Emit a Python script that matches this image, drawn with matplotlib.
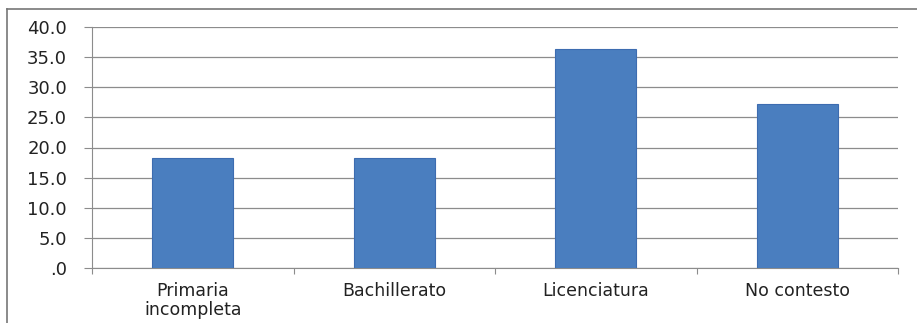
import matplotlib.pyplot as plt
from matplotlib.lines import Line2D
from matplotlib.ticker import FuncFormatter

categorias = ['Primaria\nincompleta', 'Bachillerato', 'Licenciatura', 'No contesto']
porcentajes = [18.2, 18.2, 36.4, 27.3]
ticks_y = [0, 5, 10, 15, 20, 25, 30, 35, 40]

plt.rcParams['font.family'] = ['DejaVu Sans']

fig = plt.figure(figsize=(9.17, 3.23), dpi=100)
ax = fig.add_axes([92 / 917, 1 - 268 / 323, (898 - 92) / 917, (268 - 27) / 323])

x = list(range(len(categorias)))
ax.bar(x, porcentajes, width=0.4, color='#4a7ebf', edgecolor='#3d6cb0', linewidth=0.8, zorder=3)

ax.set_xlim(-0.5, len(categorias) - 0.5)
ax.set_ylim(0, 40)
ax.set_yticks(ticks_y)
ax.yaxis.set_major_formatter(FuncFormatter(lambda v, p: '.0' if v == 0 else '%.1f' % v))
ax.grid(axis='y', color='#8c8c8c', linewidth=0.9, zorder=0)

# etiquetas de categorias en el centro, ticks en los limites
ax.set_xticks([i + 0.5 for i in range(-1, len(categorias))])
ax.set_xticklabels([])
ax.set_xticks(x, minor=True)
ax.set_xticklabels(categorias, minor=True, fontsize=12.5, color='#222222', linespacing=1.1)
ax.tick_params(axis='x', which='minor', length=0, pad=10)
ax.tick_params(axis='x', which='major', length=4, color='#8c8c8c', direction='out')
ax.tick_params(axis='y', length=6, color='#8c8c8c', labelsize=13, labelcolor='#222222', pad=12)

for s in ['top', 'right']:
    ax.spines[s].set_visible(False)
ax.spines['left'].set_color('#8c8c8c')
ax.spines['bottom'].set_color('#8c8c8c')

# borde del grafico
fig.add_artist(Line2D([7 / 917, 1], [1 - 9 / 323, 1 - 9 / 323], color='#777777', linewidth=1.2, transform=fig.transFigure))
fig.add_artist(Line2D([7 / 917, 7 / 917], [0, 1 - 9 / 323], color='#777777', linewidth=1.2, transform=fig.transFigure))

fig.savefig('out.png', dpi=100)
